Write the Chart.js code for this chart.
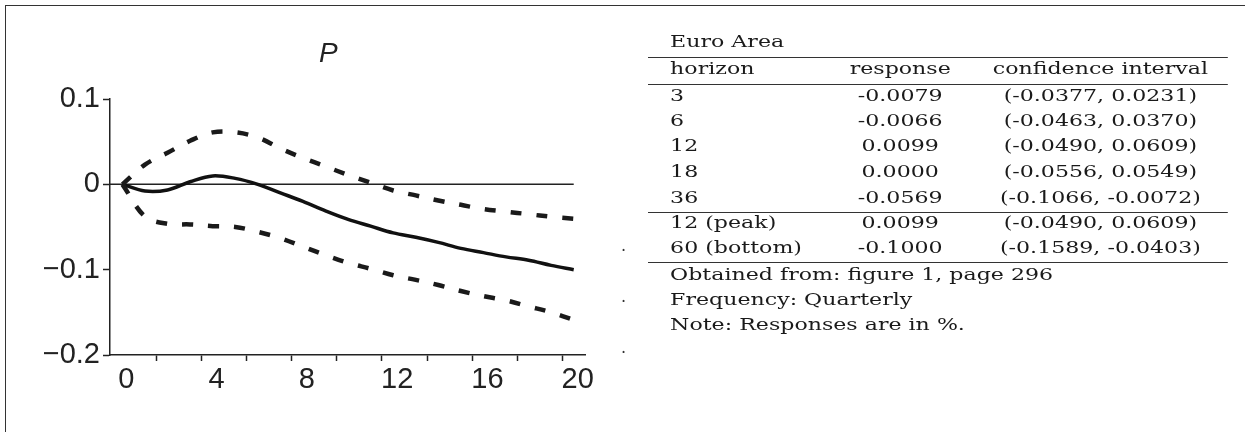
<!DOCTYPE html>
<html>
<head>
<meta charset="utf-8">
<title>P - Euro Area</title>
<script src="https://cdn.jsdelivr.net/npm/chart.js@4.4.1/dist/chart.umd.min.js"></script>
<style>
    html, body { margin: 0; padding: 0; background: #fff; }
    #page { position: relative; width: 1245px; height: 432px; overflow: hidden; }
    #frame { position: absolute; left: 5px; top: 5px; width: 1260px; height: 440px; border-left: 1.5px solid #333; border-top: 1.5px solid #333; }
    #chartBox { position: absolute; left: 0; top: 0; width: 660px; height: 432px; }
    #panelTitle { position: absolute; left: 319px; top: 39px; font: italic 28px 'Liberation Sans', Arial, sans-serif; line-height: 28px; color: #222; }
    #table { position: absolute; left: 648px; top: 0; width: 446px; height: 432px; transform: scaleX(1.3); transform-origin: 0 0; font-family: 'DejaVu Serif', serif; font-size: 17px; color: #1a1a1a; }
    .line { position: absolute; left: 0; width: 446px; height: 25px; line-height: 25px; white-space: nowrap; }
    .c1 { position: absolute; left: 17px; }
    .c2 { position: absolute; left: 134px; width: 120px; text-align: center; }
    .c3 { position: absolute; left: 238px; width: 220px; text-align: center; }
    .rule { position: absolute; left: 0; width: 446px; height: 1.3px; background: #333; }
    .dot { position: absolute; left: 621px; font: 16px 'DejaVu Serif', serif; line-height: 16px; color: #333; }
</style>
</head>
<body>
<div id="page">
    <div id="frame"></div>
    <div id="chartBox"><canvas id="irfChart" width="660" height="432"></canvas></div>
    <div id="panelTitle">P</div>
    <div id="table"></div>
    <span class="dot" style="top: 238px;">.</span>
    <span class="dot" style="top: 289px;">.</span>
    <span class="dot" style="top: 340px;">.</span>
</div>
<script>
// quarters after the shock
const horizon = [0, 1, 2, 3, 4, 5, 6, 7, 8, 9, 10, 11, 12, 13, 14, 15, 16, 17, 18, 19, 20];
const response = [0, -0.0079, -0.0066, 0.003, 0.0099, 0.007, 0.0, -0.010, -0.020, -0.031, -0.041, -0.049, -0.0569,
    -0.062, -0.068, -0.075, -0.080, -0.085, -0.089, -0.095, -0.100];
const upperBand = [0, 0.0231, 0.0370, 0.051, 0.0609, 0.061, 0.0549, 0.042, 0.031, 0.021, 0.011, 0.002, -0.0072,
    -0.013, -0.019, -0.024, -0.029, -0.032, -0.035, -0.038, -0.0403];
const lowerBand = [0, -0.0377, -0.0463, -0.047, -0.0490, -0.050, -0.0556, -0.063, -0.073, -0.083, -0.092, -0.099, -0.1066,
    -0.112, -0.118, -0.125, -0.131, -0.136, -0.143, -0.150, -0.1589];

const xTickLabels = [0, 4, 8, 12, 16, 20];
const xTickMarks = [1.5, 3.5, 5.5, 7.5, 9.5, 11.5, 13.5, 15.5, 17.5, 19.5];
const yTicks = [-0.2, -0.1, 0, 0.1];
const yTickLabels = ['\u22120.2', '\u22120.1', '0', '0.1'];

// table on the right
const tableCaption = 'Euro Area';
const tableHeader = ['horizon', 'response', 'confidence interval'];
const tableHorizon = ['3', '6', '12', '18', '36', '12 (peak)', '60 (bottom)'];
const tableResponse = ['-0.0079', '-0.0066', '0.0099', '0.0000', '-0.0569', '0.0099', '-0.1000'];
const tableInterval = ['(-0.0377, 0.0231)', '(-0.0463, 0.0370)', '(-0.0490, 0.0609)', '(-0.0556, 0.0549)',
    '(-0.1066, -0.0072)', '(-0.0490, 0.0609)', '(-0.1589, -0.0403)'];
const tableNotes = ['Obtained from: figure 1, page 296', 'Frequency: Quarterly', 'Note: Responses are in %.'];

const axisFont = { family: "'Liberation Sans', Arial, sans-serif", size: 29 };
const ink = '#222';

function toPoints(values) {
    return horizon.map((h, i) => ({ x: h, y: values[i] }));
}

const zeroLine = {
    id: 'zeroLine',
    beforeDatasetsDraw(chart) {
        const { ctx, chartArea, scales } = chart;
        const y0 = scales.y.getPixelForValue(0);
        ctx.save();
        ctx.strokeStyle = ink;
        ctx.lineWidth = 1.5;
        ctx.beginPath();
        ctx.moveTo(chartArea.left, y0);
        ctx.lineTo(scales.x.getPixelForValue(horizon[horizon.length - 1]), y0);
        ctx.stroke();
        ctx.restore();
    }
};

const band = {
    borderColor: '#1a1a1a',
    borderWidth: 4.5,
    borderDash: [11, 15],
    borderCapStyle: 'butt',
    pointRadius: 0,
    tension: 0.35,
    fill: false
};

const ctxMain = document.getElementById('irfChart').getContext('2d');
new Chart(ctxMain, {
    type: 'line',
    data: {
        datasets: [
            Object.assign({ label: 'upper', data: toPoints(upperBand) }, band),
            Object.assign({ label: 'lower', data: toPoints(lowerBand) }, band),
            {
                label: 'P',
                data: toPoints(response),
                borderColor: '#111',
                borderWidth: 3.5,
                pointRadius: 0,
                tension: 0.35,
                fill: false
            }
        ]
    },
    options: {
        responsive: false,
        animation: false,
        layout: { padding: { left: 0, right: 75, top: 99, bottom: 0 } },
        plugins: {
            legend: { display: false },
            tooltip: { enabled: false },
            title: { display: false }
        },
        scales: {
            x: {
                type: 'linear',
                min: -0.55,
                max: 20.5,
                afterBuildTicks: (s) => {
                    s.ticks = xTickMarks.concat(xTickLabels).sort((a, b) => a - b).map(v => ({ value: v }));
                },
                afterFit: (s) => { s.height = 77; },
                ticks: {
                    autoSkip: false,
                    maxRotation: 0,
                    padding: 2,
                    labelOffset: 4,
                    color: ink,
                    font: axisFont,
                    callback: (v) => xTickLabels.includes(v) ? String(v) : ''
                },
                grid: {
                    drawOnChartArea: false,
                    drawTicks: true,
                    tickLength: 6,
                    tickWidth: 1.5,
                    tickColor: (c) => (c.tick && xTickMarks.includes(c.tick.value)) ? ink : 'rgba(0,0,0,0)'
                },
                border: { display: true, color: ink, width: 1.5 }
            },
            y: {
                min: -0.2,
                max: 0.1,
                afterBuildTicks: (s) => {
                    s.ticks = yTicks.map(v => ({ value: v }));
                },
                afterFit: (s) => { s.width = 110; },
                ticks: {
                    padding: 3,
                    color: ink,
                    font: axisFont,
                    callback: (v) => yTickLabels[yTicks.findIndex(t => Math.abs(t - v) < 1e-9)]
                },
                grid: {
                    drawOnChartArea: false,
                    drawTicks: true,
                    tickLength: 7,
                    tickWidth: 1.5,
                    tickColor: ink
                },
                border: { display: true, color: ink, width: 1.5 }
            }
        }
    },
    plugins: [zeroLine]
});

// build the table text
const table = document.getElementById('table');

function addLine(top, cells) {
    const row = document.createElement('div');
    row.className = 'line';
    row.style.top = top + 'px';
    cells.forEach((txt, i) => {
        const span = document.createElement('span');
        span.className = 'c' + (i + 1);
        span.textContent = txt;
        row.appendChild(span);
    });
    table.appendChild(row);
}

function addRule(top) {
    const r = document.createElement('div');
    r.className = 'rule';
    r.style.top = top + 'px';
    table.appendChild(r);
}

const bodyTops = [83.3, 108.3, 133.1, 158.6, 184.6, 209.6, 234.6];
const noteTops = [261.6, 286.6, 311.6];

addLine(28.6, [tableCaption]);
addRule(57);
addLine(55.6, tableHeader);
addRule(84);
tableHorizon.forEach((h, i) => {
    addLine(bodyTops[i], [h, tableResponse[i], tableInterval[i]]);
});
addRule(211.5);
addRule(261.5);
tableNotes.forEach((n, i) => addLine(noteTops[i], [n]));
</script>
</body>
</html>
